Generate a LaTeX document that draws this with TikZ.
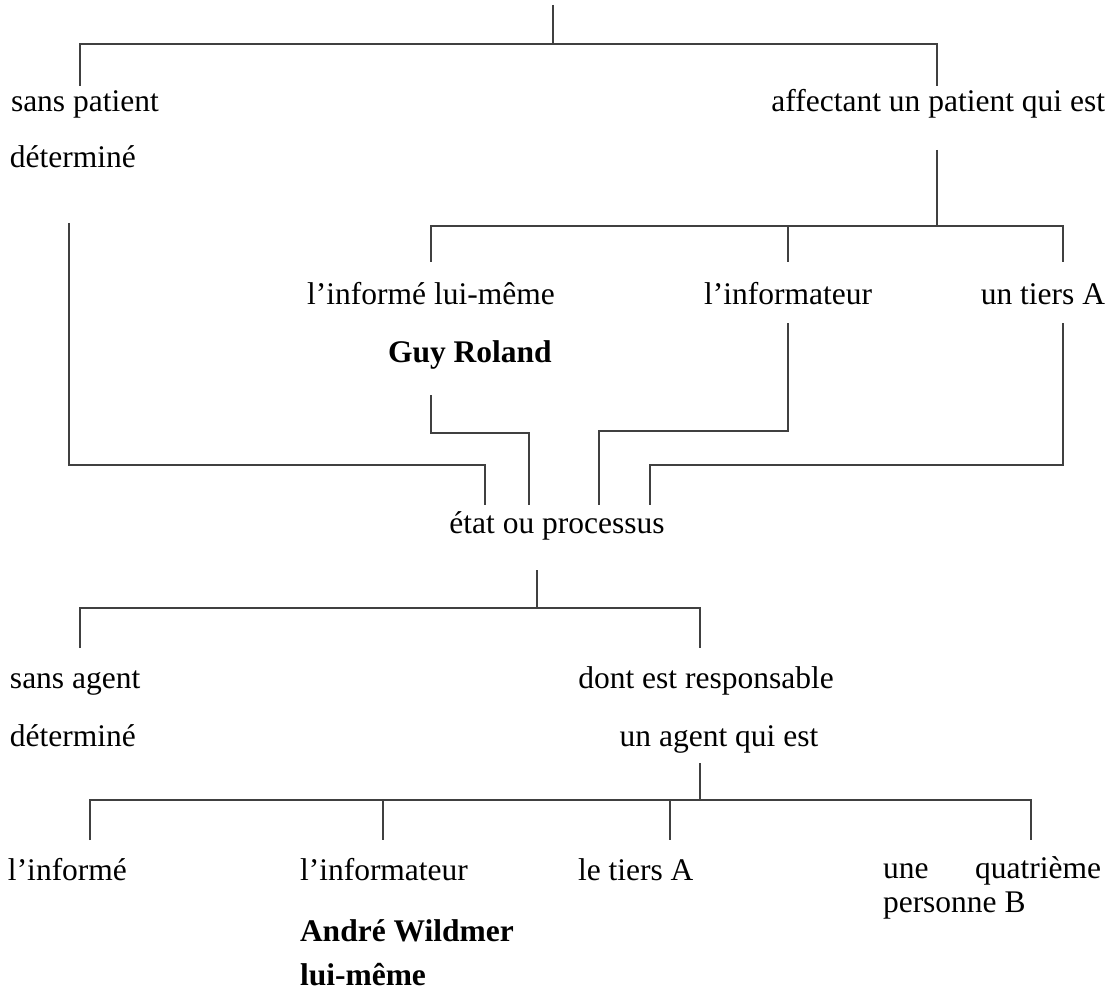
\documentclass[tikz,border=0pt]{standalone}
\usepackage{fontspec}
\setmainfont{Liberation Serif}
\begin{document}
\begin{tikzpicture}[x=0.5pt,y=-0.5pt,
  lbl/.style={inner sep=0pt, outer sep=0pt, font=\fontsize{15.75}{18}\selectfont},
  bl/.style={lbl, font=\fontsize{15.75}{18}\selectfont\bfseries},
  wire/.style={draw=black!75, line width=0.6pt}]
\useasboundingbox (0,0) rectangle (1117,994);
% text nodes
\node[lbl, anchor=base west] (sp1) at (11,112) {sans patient};
\node[lbl, anchor=base west] (sp2) at (10,168) {déterminé};
\node[lbl, anchor=base east] (aff) at (1105,112) {affectant un patient qui est};
\node[lbl, anchor=base] (inf1) at (431,305) {l’informé lui-même};
\node[lbl, anchor=base] (infr1) at (788,305) {l’informateur};
\node[lbl, anchor=base east] (tiers1) at (1105,305) {un tiers A};
\node[bl, anchor=base west] (guy) at (388,362) {Guy Roland};
\node[lbl, anchor=base] (etat) at (557,533) {état ou processus};
\node[lbl, anchor=base west] (sa1) at (10,688) {sans agent};
\node[lbl, anchor=base west] (sa2) at (10,746) {déterminé};
\node[lbl, anchor=base] (dont) at (706,688) {dont est responsable};
\node[lbl, anchor=base] (agent) at (719,746) {un agent qui est};
\node[lbl, anchor=base west] (inf2) at (8,880) {l’informé};
\node[lbl, anchor=base west] (infr2) at (300,880) {l’informateur};
\node[lbl, anchor=base west] (tiers2) at (578,880) {le tiers A};
\node[lbl, anchor=base west] (une) at (883,878) {une};
\node[lbl, anchor=base east] (quat) at (1101,878) {quatrième};
\node[lbl, anchor=base west] (pers) at (883,912) {personne B};
\node[bl, anchor=base west] (andre) at (300,941) {André Wildmer};
\node[bl, anchor=base west] (lui) at (300,985) {lui-même};
% coordinates
\coordinate (top) at (553,5);
\coordinate (t1) at (553,44);
\coordinate (tL) at (80,44);
\coordinate (tR) at (937,44);
\coordinate (tLd) at (80,86);
\coordinate (tRd) at (937,86);
\coordinate (aS) at (937,150);
\coordinate (aJ) at (937,226);
\coordinate (m1) at (431,226);
\coordinate (m2) at (788,226);
\coordinate (m3) at (1063,226);
\coordinate (m1d) at (431,262);
\coordinate (m2d) at (788,262);
\coordinate (m3d) at (1063,262);
% upper tree
\draw[wire] (top) -- (t1);
\draw[wire] (tLd) -- (tL) -- (tR) -- (tRd);
\draw[wire] (aS) -- (aJ);
\draw[wire] (m1d) -- (m1) -- (m3) -- (m3d);
\draw[wire] (m2) -- (m2d);
% converging to etat
\draw[wire] (69,223) -- (69,465) -- (485,465) -- (485,505);
\draw[wire] (431,395) -- (431,433) -- (529,433) -- (529,505);
\draw[wire] (788,323) -- (788,431) -- (599,431) -- (599,505);
\draw[wire] (1063,323) -- (1063,465) -- (650,465) -- (650,505);
% lower tree
\draw[wire] (537,570) -- (537,608);
\draw[wire] (80,648) -- (80,608) -- (700,608) -- (700,648);
\draw[wire] (700,763) -- (700,800);
\draw[wire] (90,840) -- (90,800) -- (1031,800) -- (1031,840);
\draw[wire] (383,800) -- (383,840);
\draw[wire] (670,800) -- (670,840);
\end{tikzpicture}
\end{document}
